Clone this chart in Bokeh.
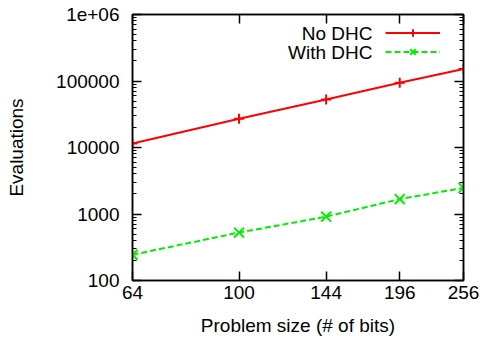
from bokeh.plotting import figure
from bokeh.models import (Range1d, FixedTicker, LogAxis, CustomJSTickFormatter,
                          Legend, LegendItem, Label)
from bokeh.embed import file_html
from bokeh.resources import INLINE

# ---- data ----
sizes = [64, 100, 144, 196, 256]
no_dhc = [11500, 27100, 52600, 94400, 151000]
with_dhc = [244, 526, 912, 1675, 2470]
x_ticks = [64, 100, 144, 196, 256]
x_tick_labels = ["64", "100", "144", "196", "256"]
y_ticks = [100, 1000, 10000, 100000, 1000000]
y_tick_labels = ["100", "1000", "10000", "100000", "1e+06"]
series_names = ["No DHC", "With DHC"]

FONT = "Liberation Sans"
FS = "19px"

p = figure(width=484, height=343, x_axis_type="log", y_axis_type="log",
           x_range=Range1d(64, 256), y_range=Range1d(100, 1e6),
           output_backend="svg", toolbar_location=None,
           min_border_left=132, min_border_right=21,
           min_border_top=14, min_border_bottom=63)
p.xgrid.visible = False
p.ygrid.visible = False
p.outline_line_color = "black"
p.outline_line_width = 1.5
p.background_fill_color = "white"
p.border_fill_color = "white"

minor = [k * 10 ** d for d in range(2, 6) for k in range(2, 10)]
xt = FixedTicker(ticks=x_ticks, minor_ticks=[])
yt = FixedTicker(ticks=y_ticks, minor_ticks=minor)


def style_axis(ax):
    ax.axis_line_width = 1.5
    ax.major_tick_line_width = 1.5
    ax.minor_tick_line_width = 1
    ax.major_tick_in = 9
    ax.major_tick_out = 0
    ax.minor_tick_in = 4
    ax.minor_tick_out = 0
    ax.major_label_text_font = FONT
    ax.major_label_text_font_size = FS
    ax.major_label_text_color = "black"
    ax.axis_label_text_font = FONT
    ax.axis_label_text_font_size = FS
    ax.axis_label_text_font_style = "normal"
    ax.axis_label_text_color = "black"


xa = p.xaxis[0]
xa.ticker = xt
xa.major_label_overrides = {t: l for t, l in zip(x_ticks, x_tick_labels)}
xa.axis_label = "Problem size (# of bits)"
xa.major_label_standoff = 5
xa.axis_label_standoff = 13
style_axis(xa)

ya = p.yaxis[0]
ya.ticker = yt
ya.major_label_overrides = {t: l for t, l in zip(y_ticks, y_tick_labels)}
ya.axis_label = "Evaluations"
ya.major_label_standoff = 13
ya.axis_label_standoff = 26
style_axis(ya)

blank = CustomJSTickFormatter(code="return ''")
ra = LogAxis(ticker=yt, formatter=blank)
style_axis(ra)
ra.major_label_standoff = 0
p.add_layout(ra, "right")
ta = LogAxis(ticker=xt, formatter=blank)
style_axis(ta)
ta.major_label_standoff = 0
p.add_layout(ta, "above")

r1l = p.line(sizes, no_dhc, line_color="#ff0000", line_width=2)
r1m = p.scatter(sizes, no_dhc, marker="cross", size=10, line_color="#ff0000", line_width=2)
r2l = p.line(sizes, with_dhc, line_color="#00ee00", line_width=2, line_dash="6 3")
r2m = p.scatter(sizes, with_dhc, marker="x", size=14, line_color="#00ee00", line_width=2)

legend = Legend(items=[LegendItem(label="", renderers=[r1l, r1m]),
                       LegendItem(label="", renderers=[r2l, r2m])],
                location=(253, 219), orientation="vertical",
                padding=0, margin=0, spacing=0, glyph_width=55, glyph_height=19,
                label_width=0, label_standoff=0, label_height=19,
                border_line_alpha=0, background_fill_alpha=0)
p.add_layout(legend)

for i, name in enumerate(series_names):
    p.add_layout(Label(x=372, y=33 + 19 * i, x_units="canvas", y_units="canvas",
                       text=name, text_align="right", text_baseline="middle",
                       text_font=FONT, text_font_size=FS, text_color="black"))

open("out.html", "w").write(file_html(p, INLINE))
